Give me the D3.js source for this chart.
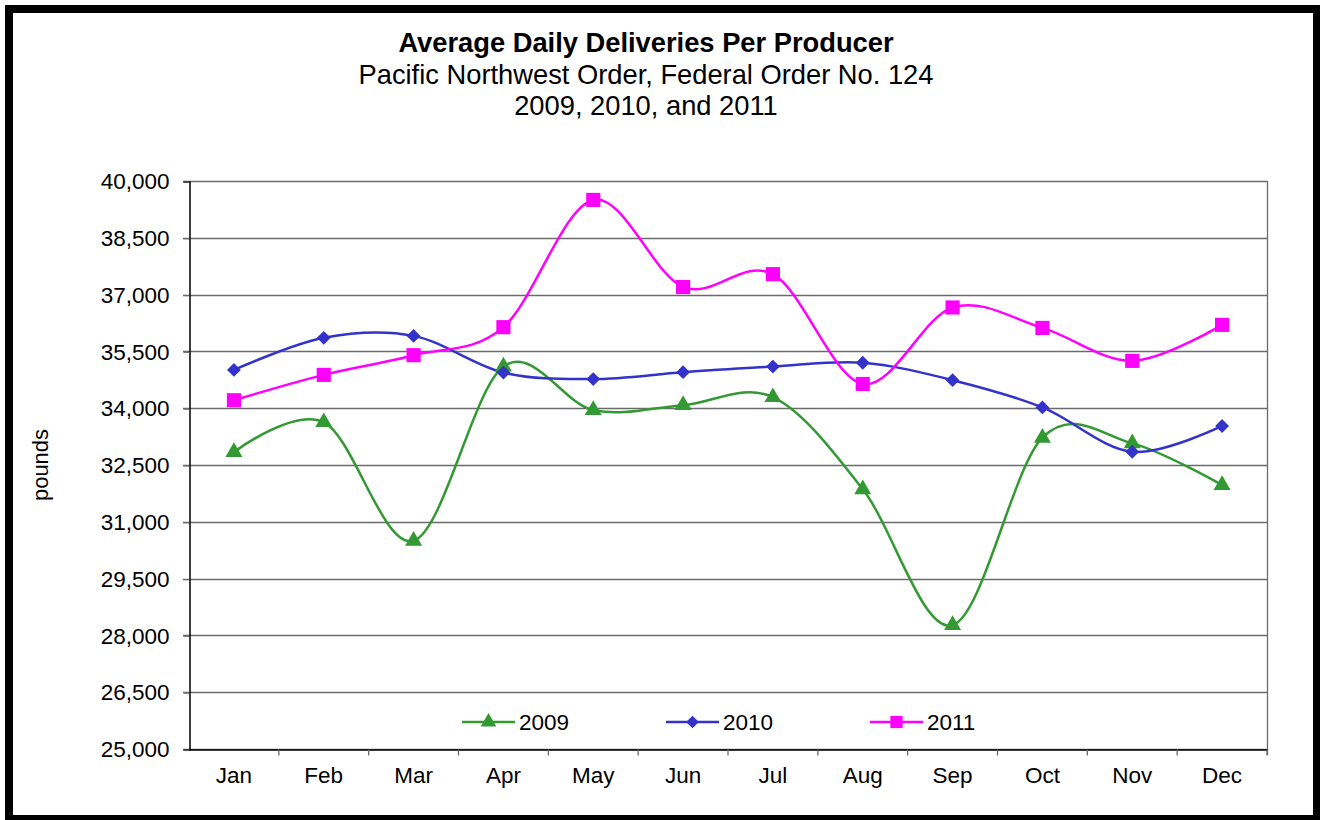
<!DOCTYPE html>
<html>
<head>
<meta charset="utf-8">
<script src="https://cdn.jsdelivr.net/npm/d3@7"></script>
<style>
  body { margin: 0; background: #fff; }
  svg text { font-family: "Liberation Sans", Arial, sans-serif; fill: #000; }
  .grid line { stroke: #6b6b6b; stroke-width: 1.3; }
  .series { fill: none; stroke-width: 2.5; }
</style>
</head>
<body>
<div id="chart"></div>
<script>
// chart values
var months = ["Jan", "Feb", "Mar", "Apr", "May", "Jun", "Jul", "Aug", "Sep", "Oct", "Nov", "Dec"];
var yTicks = [25000, 26500, 28000, 29500, 31000, 32500, 34000, 35500, 37000, 38500, 40000];
var years = ["2009", "2010", "2011"];
var values2009 = [32840, 33630, 30500, 35100, 33950, 34080, 34290, 31860, 28270, 33220, 33070, 31970];
var values2010 = [35010, 35860, 35910, 34940, 34770, 34950, 35100, 35200, 34740, 34020, 32850, 33530];
var values2011 = [34210, 34880, 35400, 36140, 39500, 37200, 37540, 34640, 36660, 36120, 35250, 36200];

var seriesValues = [values2009, values2010, values2011];
var seriesColors = ["#339933", "#3333cc", "#ff00ff"];
// diamond = square turned 45 degrees (Excel style, not the narrow d3 one)
var seriesMarkers = [d3.symbolTriangle, d3.symbolSquare, d3.symbolSquare];
var markerTurn = [0, 45, 0];

/*
 * layout
 */
var width = 1320, height = 820;
var plot = { left: 189, top: 181, right: 1267, bottom: 749 };

var svg = d3.select("#chart").append("svg")
  .attr("width", width)
  .attr("height", height);

var x = d3.scaleBand()
  .domain(months)
  .range([plot.left, plot.right]);

var y = d3.scaleLinear()
  .domain([25000, 40000])
  .range([plot.bottom, plot.top]);

// gridlines
svg.append("g")
  .attr("class", "grid")
  .selectAll("line")
  .data(yTicks)
  .enter().append("line")
    .attr("x1", plot.left - 6)
    .attr("x2", plot.right)
    .attr("y1", function(d) { return Math.round(y(d)) + 0.5; })
    .attr("y2", function(d) { return Math.round(y(d)) + 0.5; });

// right border of plot area
svg.append("line")
  .attr("x1", plot.right + 0.5).attr("x2", plot.right + 0.5)
  .attr("y1", plot.top).attr("y2", plot.bottom + 6)
  .attr("stroke", "#6b6b6b")
  .attr("stroke-width", 1.3);

// y axis
var yAxis = svg.append("g")
  .attr("transform", "translate(" + (plot.left + 0.5) + ",0.5)")
  .call(d3.axisLeft(y)
    .tickValues(yTicks)
    .tickSize(6)
    .tickPadding(14)
    .tickFormat(d3.format(",")));
yAxis.select(".domain").attr("stroke", "#000").attr("stroke-width", 1.5);
yAxis.selectAll(".tick line").attr("stroke", "#6b6b6b");
yAxis.selectAll("text").attr("font-size", 22.5).attr("fill", "#000");

// x axis, ticks at band boundaries
var xAxis = svg.append("g")
  .attr("transform", "translate(0," + (plot.bottom + 0.5) + ")")
  .call(d3.axisBottom(x).tickSize(0).tickPadding(18));
xAxis.select(".domain").attr("stroke", "#000").attr("stroke-width", 1.5);
xAxis.selectAll("text").attr("font-size", 22.5).attr("fill", "#000");
xAxis.selectAll(".bound")
  .data(months)
  .enter().append("line")
    .attr("class", "bound")
    .attr("x1", function(d) { return x(d) + x.bandwidth(); })
    .attr("x2", function(d) { return x(d) + x.bandwidth(); })
    .attr("y1", 0)
    .attr("y2", 6)
    .attr("stroke", "#6b6b6b")
    .attr("stroke-width", 1.3);

// axis title
svg.append("text")
  .attr("transform", "translate(48,465) rotate(-90)")
  .attr("text-anchor", "middle")
  .attr("font-size", 22)
  .text("pounds");

// chart title
var titles = ["Average Daily Deliveries Per Producer", "Pacific Northwest Order, Federal Order No. 124", "2009, 2010, and 2011"];
svg.selectAll(".title")
  .data(titles)
  .enter().append("text")
    .attr("class", "title")
    .attr("x", 646)
    .attr("y", function(d, i) { return 52 + i * 31.5; })
    .attr("text-anchor", "middle")
    .attr("font-size", 27.3)
    .attr("font-weight", function(d, i) { return i === 0 ? "bold" : "normal"; })
    .text(function(d) { return d; });

// smoothed lines, Excel style
var line = d3.line()
  .x(function(d, i) { return x(months[i]) + x.bandwidth() / 2; })
  .y(function(d) { return y(d); })
  .curve(d3.curveCatmullRom.alpha(0));

seriesValues.forEach(function(vals, s) {
  svg.append("path")
    .datum(vals)
    .attr("class", "series")
    .attr("stroke", seriesColors[s])
    .attr("d", line);
});

// markers on top
var markerSize = [125, 95, 200];
seriesValues.forEach(function(vals, s) {
  svg.append("g").selectAll("path")
    .data(vals)
    .enter().append("path")
      .attr("transform", function(d, i) {
        return "translate(" + (x(months[i]) + x.bandwidth() / 2) + "," + y(d) + ") rotate(" + markerTurn[s] + ")";
      })
      .attr("d", d3.symbol().type(seriesMarkers[s]).size(markerSize[s]))
      .attr("fill", seriesColors[s]);
});

// legend
var legendX = [462, 666, 870];
var legend = svg.append("g").selectAll("g")
  .data(years)
  .enter().append("g")
    .attr("transform", function(d, i) { return "translate(" + legendX[i] + ",722)"; });
legend.append("line")
  .attr("x1", 0).attr("x2", 53)
  .attr("stroke", function(d, i) { return seriesColors[i]; })
  .attr("stroke-width", 2.5);
legend.append("path")
  .attr("transform", function(d, i) { return "translate(26.5,0) rotate(" + markerTurn[i] + ")"; })
  .attr("d", function(d, i) { return d3.symbol().type(seriesMarkers[i]).size([105, 80, 150][i])(); })
  .attr("fill", function(d, i) { return seriesColors[i]; });
legend.append("text")
  .attr("x", 57)
  .attr("y", 8)
  .attr("font-size", 22.5)
  .text(function(d) { return d; });

// outer frame
svg.append("rect")
  .attr("x", 9).attr("y", 9)
  .attr("width", 1308).attr("height", 810)
  .attr("fill", "none")
  .attr("stroke", "#000")
  .attr("stroke-width", 8);
</script>
</body>
</html>
